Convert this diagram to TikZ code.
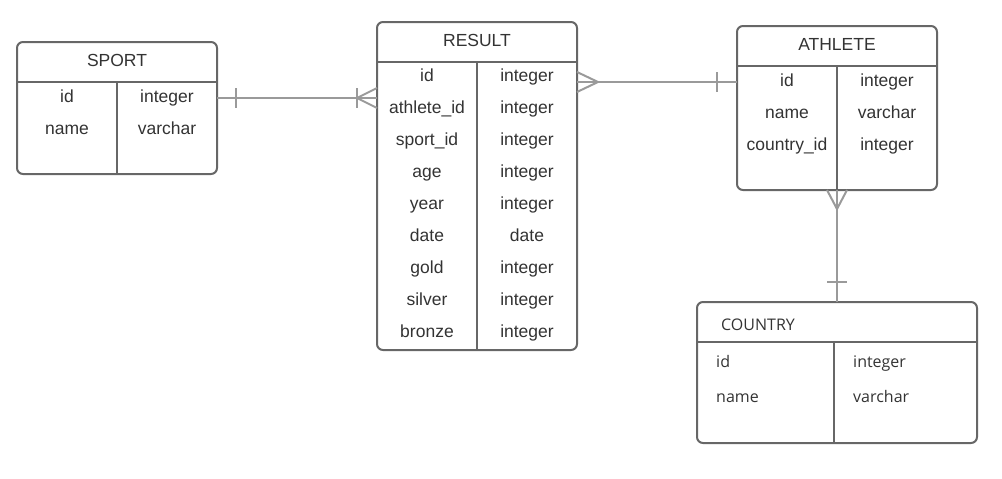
\documentclass[tikz,border=0pt]{standalone}
\usepackage{fontspec}
\setmainfont{Liberation Sans}
\newfontfamily\countryfont{Open Sans}
\usetikzlibrary{calc}
\definecolor{boxline}{HTML}{676767}
\definecolor{linkline}{HTML}{9A9A9A}
\definecolor{txt}{HTML}{333333}
\tikzset{table/.style={draw=boxline,line width=2pt,rounded corners=6pt,anchor=north west,inner sep=0pt,outer sep=0pt},
  rule/.style={draw=boxline,line width=2pt},
  link/.style={draw=linkline,line width=2pt},
  field/.style={anchor=base,inner sep=0pt,text=txt,font=\fontsize{17.5}{20}\selectfont},
  cfield/.style={anchor=base west,inner sep=0pt,text=txt,font=\countryfont\fontsize{16}{19}\selectfont}}

\begin{document}
\begin{tikzpicture}[x=1pt,y=-1pt]
\useasboundingbox (0,0) rectangle (1002,479);
% tables
\node[table,minimum width=200pt,minimum height=132pt] (sport) at (17,42) {};
\node[table,minimum width=200pt,minimum height=328pt] (result) at (377,22) {};
\node[table,minimum width=200pt,minimum height=164pt] (athlete) at (737,26) {};
\node[table,minimum width=280pt,minimum height=141pt] (country) at (697,302) {};
% header and column lines
\draw[rule] (17,82) -- (217,82);
\draw[rule] (117,82) -- (117,174);
\draw[rule] (377,62) -- (577,62);
\draw[rule] (477,62) -- (477,350);
\draw[rule] (737,66) -- (937,66);
\draw[rule] (837,66) -- (837,190);
\draw[rule] (697,342) -- (977,342);
\draw[rule] (834,342) -- (834,443);
% SPORT
\node[field] (sport-title) at (117,66) {SPORT};
\node[field] (sport-f1) at (67,102) {id};
\node[field] (sport-t1) at (167,102) {integer};
\node[field] (sport-f2) at (67,134) {name};
\node[field] (sport-t2) at (167,134) {varchar};
% RESULT
\node[field] (result-title) at (477,46) {RESULT};
\foreach \fname/\ftype [count=\i] in {id/integer,athlete\_id/integer,sport\_id/integer,age/integer,year/integer,date/date,gold/integer,silver/integer,bronze/integer}
{
  \node[field] (result-f\i) at (427,{49+32*\i}) {\fname};
  \node[field] (result-t\i) at (527,{49+32*\i}) {\ftype};
}
% ATHLETE
\node[field] (athlete-title) at (837,50) {ATHLETE};
\foreach \fname/\ftype [count=\i] in {id/integer,name/varchar,country\_id/integer}
{
  \node[field] (athlete-f\i) at (787,{54+32*\i}) {\fname};
  \node[field] (athlete-t\i) at (887,{54+32*\i}) {\ftype};
}
% COUNTRY
\node[cfield] (country-title) at (721,330) {COUNTRY};
\node[cfield] (country-f1) at (716,367) {id};
\node[cfield] (country-t1) at (853,367) {integer};
\node[cfield] (country-f2) at (716,402) {name};
\node[cfield] (country-t2) at (853,402) {varchar};
% sport -- result
\coordinate (sr-one) at (sport.east |- 0,98);
\coordinate (sr-many) at (result.west |- 0,98);
\draw[link] (sr-one) -- (sr-many);
\draw[link] ($(sr-one)+(19,-10)$) -- ($(sr-one)+(19,10)$);
\draw[link] ($(sr-many)+(-20,-10)$) -- ($(sr-many)+(-20,10)$);
\draw[link] ($(sr-many)+(0,-10)$) -- ($(sr-many)+(-20,0)$) -- ($(sr-many)+(0,10)$);
% result -- athlete
\coordinate (ra-many) at (result.east |- 0,82);
\coordinate (ra-one) at (athlete.west |- 0,82);
\draw[link] (ra-many) -- (ra-one);
\draw[link] ($(ra-many)+(0,-10)$) -- ($(ra-many)+(21,0)$) -- ($(ra-many)+(0,10)$);
\draw[link] ($(ra-one)+(-20,-10)$) -- ($(ra-one)+(-20,10)$);
% athlete -- country
\coordinate (ac-many) at (athlete.south -| 837,0);
\coordinate (ac-one) at (country.north -| 837,0);
\draw[link] (ac-many) -- (ac-one);
\draw[link] ($(ac-many)+(-10,0)$) -- ($(ac-many)+(0,19)$) -- ($(ac-many)+(10,0)$);
\draw[link] ($(ac-one)+(-10,-20)$) -- ($(ac-one)+(10,-20)$);
\end{tikzpicture}
\end{document}
